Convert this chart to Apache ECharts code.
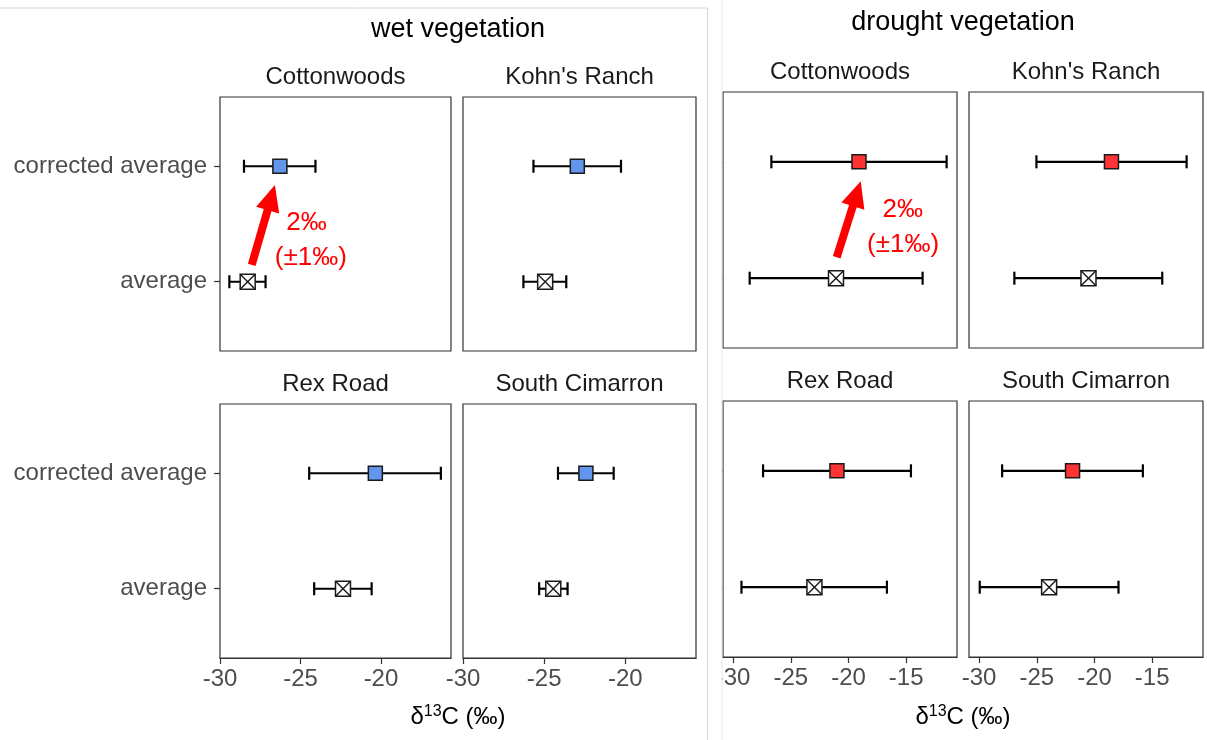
<!DOCTYPE html>
<html>
<head>
<meta charset="utf-8">
<title>delta 13C</title>
<script src="https://cdn.jsdelivr.net/npm/echarts@6/dist/echarts.min.js"></script>
<style>
html, body { margin: 0; padding: 0; background: #fff; }
#main { width: 1207px; height: 740px; }
</style>
</head>
<body>
<div id="main"></div>
<script type="text/javascript">
var sites = ['Cottonwoods', "Kohn's Ranch", 'Rex Road', 'South Cimarron'];
var yLabels = ['average', 'corrected average'];
var wetTicks = [-30, -25, -20];
var droughtTicks = [-30, -25, -20, -15];

// wet vegetation, per site
var wetAvg = [-28.28, -24.94, -22.36, -24.44];
var wetAvgLo = [-29.42, -26.28, -24.15, -25.31];
var wetAvgHi = [-27.17, -23.64, -20.58, -23.56];
var wetCor = [-26.28, -22.96, -20.35, -22.43];
var wetCorLo = [-28.51, -25.66, -24.46, -24.15];
var wetCorHi = [-24.07, -20.27, -16.28, -20.72];

// drought vegetation, per site
var drAvg = [-21.08, -20.52, -22.95, -23.93];
var drAvgLo = [-28.56, -26.94, -29.27, -29.94];
var drAvgHi = [-13.58, -14.13, -16.67, -17.92];
var drCor = [-19.09, -18.53, -21.0, -21.9];
var drCorLo = [-26.68, -25.03, -27.4, -28.0];
var drCorHi = [-11.5, -12.02, -14.59, -15.81];

// annotation: arrow [x0, y0, x1, y1] and note text anchors, in data units
var noteLines = ['2‰', '(±1‰)'];
var wetArrow = [-28.03, 1.145, -26.59, 1.837];
var wetNote = [[-24.63, 1.51], [-24.36, 1.205]];
var droughtArrow = [-21.02, 1.18, -18.94, 1.833];
var droughtNote = [[-15.3, 1.584], [-15.27, 1.283]];

var font = "'Liberation Sans', Arial, Helvetica, sans-serif";
var boxes = [
    [220, 97, 231, 254], [463, 97, 233, 254], [220, 404, 231, 254], [463, 404, 233, 254],
    [723, 92, 234, 256], [969, 92, 234, 256], [723, 401, 234, 256], [969, 401, 234, 256]
];

function errItem(params, api, fill) {
    var y = api.value(1);
    var p = api.coord([api.value(0), y]);
    var lo = api.coord([api.value(2), y]);
    var hi = api.coord([api.value(3), y]);
    var ls = { stroke: '#000', lineWidth: 2.2 };
    var kids = [
        { type: 'line', shape: { x1: lo[0], y1: p[1], x2: hi[0], y2: p[1] }, style: ls },
        { type: 'line', shape: { x1: lo[0], y1: p[1] - 6.5, x2: lo[0], y2: p[1] + 6.5 }, style: ls },
        { type: 'line', shape: { x1: hi[0], y1: p[1] - 6.5, x2: hi[0], y2: p[1] + 6.5 }, style: ls }
    ];
    var s;
    if (fill) {
        s = 7;
        kids.push({ type: 'rect', shape: { x: p[0] - s, y: p[1] - s, width: 2 * s, height: 2 * s },
            style: { fill: fill, stroke: '#1a1a1a', lineWidth: 1.5 } });
    } else {
        s = 7.5;
        var ms = { stroke: '#1a1a1a', lineWidth: 1.4 };
        kids.push({ type: 'rect', shape: { x: p[0] - s, y: p[1] - s, width: 2 * s, height: 2 * s },
            style: { fill: '#fff', stroke: '#1a1a1a', lineWidth: 1.5 } });
        kids.push({ type: 'line', shape: { x1: p[0] - s, y1: p[1] - s, x2: p[0] + s, y2: p[1] + s }, style: ms });
        kids.push({ type: 'line', shape: { x1: p[0] + s, y1: p[1] - s, x2: p[0] - s, y2: p[1] + s }, style: ms });
    }
    return { type: 'group', children: kids };
}

function arrowItem(arrow, note) {
    return function (params, api) {
        var a = api.coord([arrow[0], arrow[1]]);
        var b = api.coord([arrow[2], arrow[3]]);
        var dx = b[0] - a[0], dy = b[1] - a[1];
        var len = Math.sqrt(dx * dx + dy * dy);
        var ux = dx / len, uy = dy / len;
        var hl = 26, hw = 12;
        var bx = b[0] - ux * hl, by = b[1] - uy * hl;
        var kids = [
            { type: 'line', shape: { x1: a[0], y1: a[1], x2: bx + ux * 2, y2: by + uy * 2 },
                style: { stroke: '#ff0000', lineWidth: 8 } },
            { type: 'polygon', shape: { points: [[b[0], b[1]], [bx - uy * hw, by + ux * hw], [bx + uy * hw, by - ux * hw]] },
                style: { fill: '#ff0000' } }
        ];
        for (var i = 0; i < note.length; i++) {
            var t = api.coord(note[i]);
            kids.push({ type: 'text', x: t[0], y: t[1],
                style: { text: noteLines[i], fill: '#ff0000', fontSize: 26, fontFamily: font, align: 'center', verticalAlign: 'middle' } });
        }
        return { type: 'group', children: kids };
    };
}

var grid = [], xAxis = [], yAxis = [], series = [], graphic = [];

for (var g = 0; g < 8; g++) {
    var wet = g < 4, k = g % 4;
    var bottom = k >= 2, left = k % 2 === 0;
    var ticks = wet ? wetTicks : droughtTicks;
    var bx = boxes[g];
    grid.push({ left: bx[0], top: bx[1], width: bx[2], height: bx[3], show: true,
        borderColor: '#333', borderWidth: 1.2, backgroundColor: '#fff' });
    xAxis.push({
        gridIndex: g, type: 'value',
        min: wet ? -30 : -30.87, max: wet ? -15.65 : -10.6,
        axisLine: { show: bottom, onZero: false, lineStyle: { color: '#333', width: 1.2 } },
        axisTick: { show: bottom, length: 6, customValues: ticks, lineStyle: { color: '#333', width: 1.2 } },
        axisLabel: { show: bottom, customValues: ticks, margin: 9, fontSize: 24, color: '#4d4d4d', fontFamily: font },
        splitLine: { show: false }
    });
    yAxis.push({
        gridIndex: g, type: 'value', min: 0.4, max: 2.6,
        axisLine: { show: false },
        axisTick: { show: left, length: wet ? 6 : 2, customValues: [1, 2], lineStyle: { color: '#333', width: 1.2 } },
        axisLabel: { show: left && wet, customValues: [1, 2], margin: 13, fontSize: 24, color: '#4d4d4d', fontFamily: font,
            formatter: function (v) { return yLabels[v - 1]; } },
        splitLine: { show: false }
    });
    series.push({
        type: 'custom', xAxisIndex: g, yAxisIndex: g,
        renderItem: function (params, api) { return errItem(params, api, null); },
        data: [[wet ? wetAvg[k] : drAvg[k], 1, wet ? wetAvgLo[k] : drAvgLo[k], wet ? wetAvgHi[k] : drAvgHi[k]]]
    });
    (function (fill) {
        series.push({
            type: 'custom', xAxisIndex: g, yAxisIndex: g,
            renderItem: function (params, api) { return errItem(params, api, fill); },
            data: [[wet ? wetCor[k] : drCor[k], 2, wet ? wetCorLo[k] : drCorLo[k], wet ? wetCorHi[k] : drCorHi[k]]]
        });
    })(wet ? '#6495ED' : '#FF3333');
    graphic.push({ type: 'text', x: bx[0] + bx[2] / 2, y: bx[1] - 20,
        style: { text: sites[k], fill: '#1a1a1a', fontSize: 24, fontFamily: font, align: 'center', verticalAlign: 'middle' } });
}

series.push({ type: 'custom', xAxisIndex: 0, yAxisIndex: 0, renderItem: arrowItem(wetArrow, wetNote), data: [[0, 0]], z: 5 });
series.push({ type: 'custom', xAxisIndex: 4, yAxisIndex: 4, renderItem: arrowItem(droughtArrow, droughtNote), data: [[0, 0]], z: 5 });

var axisTitle = {
    text: '{a|δ}{b|13}{a|C (‰)}',
    rich: {
        a: { fontSize: 24, fontFamily: font, fill: '#000', lineHeight: 26 },
        b: { fontSize: 16, fontFamily: font, fill: '#000', verticalAlign: 'top', lineHeight: 26 }
    },
    align: 'center', verticalAlign: 'middle'
};

graphic.push(
    { type: 'line', shape: { x1: 0, y1: 8, x2: 707, y2: 8 }, style: { stroke: '#d6d6d6', lineWidth: 1 }, z: 100 },
    { type: 'rect', shape: { x: 708, y: 0, width: 14, height: 740 }, style: { fill: '#fff' }, z: 100 },
    { type: 'line', shape: { x1: 707.5, y1: 8, x2: 707.5, y2: 740 }, style: { stroke: '#d6d6d6', lineWidth: 1 }, z: 101 },
    { type: 'line', shape: { x1: 722, y1: 0, x2: 722, y2: 740 }, style: { stroke: '#e6e6e6', lineWidth: 1 }, z: 101 },
    { type: 'text', x: 458, y: 30, style: { text: 'wet vegetation', fill: '#000', fontSize: 27, fontFamily: font, align: 'center', verticalAlign: 'middle' } },
    { type: 'text', x: 963, y: 23, style: { text: 'drought vegetation', fill: '#000', fontSize: 27, fontFamily: font, align: 'center', verticalAlign: 'middle' } },
    { type: 'text', x: 458, y: 717, style: axisTitle },
    { type: 'text', x: 963, y: 717, style: axisTitle }
);

var myChart = echarts.init(document.getElementById('main'), null, { renderer: 'canvas' });
myChart.setOption({
    animation: false,
    backgroundColor: '#fff',
    grid: grid,
    xAxis: xAxis,
    yAxis: yAxis,
    series: series,
    graphic: graphic
});
</script>
</body>
</html>
